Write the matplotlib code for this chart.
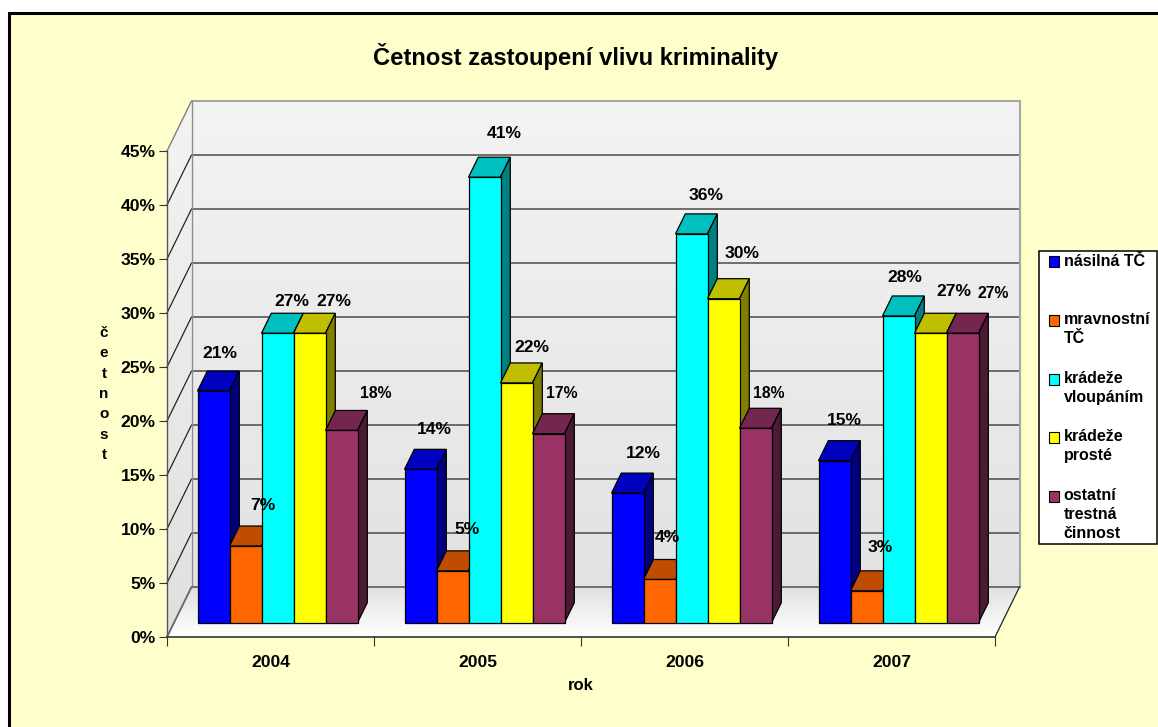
import numpy as np
import matplotlib
matplotlib.use('Agg')
import matplotlib.pyplot as plt
from matplotlib.patches import Rectangle, Polygon

plt.rcParams['font.family'] = ['Liberation Sans', 'DejaVu Sans']
plt.rcParams['font.weight'] = 'bold'

# data
roky = ['2004', '2005', '2006', '2007']
nazvy = ['násilná TČ', 'mravnostní\nTČ', 'krádeže\nvloupáním', 'krádeže\nprosté', 'ostatní\ntrestná\nčinnost']
nasilna = [21.45, 14.2, 12.0, 15.0]
mravnostni = [7.1, 4.8, 4.0, 2.95]
vloupani = [26.8, 41.25, 36.0, 28.4]
proste = [26.8, 22.2, 30.0, 26.8]
ostatni = [17.8, 17.5, 18.0, 26.8]
serie = [nasilna, mravnostni, vloupani, proste, ostatni]
popisky = [[21, 14, 12, 15], [7, 5, 4, 3], [27, 41, 36, 28], [27, 22, 30, 27], [18, 17, 18, 27]]

# colours: front, top, side
barvy = [('#0000FF', '#0000BF', '#000080'),
         ('#FF6600', '#BF4C00', '#803300'),
         ('#00FFFF', '#00BFBF', '#008080'),
         ('#FFFF00', '#BFBF00', '#808000'),
         ('#993366', '#732650', '#4D1A33')]

# label centres in pixels (they were moved by hand in the original)
pozice = [[(220, 353), (434, 429), (643, 453), (844, 420)],
          [(263, 505), (467, 529), (667, 538), (880, 548)],
          [(292, 302), (504, 134), (706, 195), (905, 278)],
          [(334, 302), (532, 347), (742, 254), (954, 291)],
          [(376, 393), (562, 393), (769, 393), (993, 294)]]
male = [(4, 0), (4, 1), (4, 2), (4, 3)]

W, H = 1158, 727
fig = plt.figure(figsize=(W / 100, H / 100), dpi=100, facecolor='white')


def fx(x):
    return x / W


def fy(y):
    return 1 - y / H


# panel with border, cut off at right and bottom like the original
fig.add_artist(Rectangle((fx(8.5), fy(760)), fx(1200), 760 / H - 12.5 / H, transform=fig.transFigure,
                         facecolor='#FFFFCC', edgecolor='black', linewidth=2.2, zorder=-1))

ax = fig.add_axes([fx(167), fy(637), 828 / W, 486 / H])
ax.set_facecolor('none')
ax.set_xlim(0, 4)
ax.set_ylim(0, 45)
sx = 828 / 4  # px per category
sy = 486 / 45  # px per percent
hx, hy = 24.5 / sx, 50 / sy  # depth of the box


def gradient(poly, extent, top, bottom):
    grad = np.linspace(top, bottom, 64).reshape(-1, 1)
    im = ax.imshow(grad, extent=extent, aspect='auto', cmap='gray', vmin=0, vmax=1, zorder=0.5)
    im.set_clip_box(fig.bbox)
    im.set_clip_path(Polygon(poly, transform=ax.transData))


gradient([(hx, hy), (4 + hx, hy), (4 + hx, 45 + hy), (hx, 45 + hy)], (hx, 4 + hx, hy, 45 + hy), 0.95, 0.885)
gradient([(0, 0), (hx, hy), (hx, 45 + hy), (0, 45)], (0, hx, 0, 45 + hy), 0.95, 0.875)
gradient([(0, 0), (4, 0), (4 + hx, hy), (hx, hy)], (0, 4 + hx, 0, hy), 0.88, 1.0)
ax.set_xlim(0, 4)
ax.set_ylim(0, 45)

# grid on back and side wall
for v in range(5, 45, 5):
    ax.plot([0, hx, 4 + hx], [v, v + hy, v + hy], color='#1A1A1A', lw=0.85, zorder=1, clip_on=False)
# wall and floor edges
ax.plot([0, hx, 4 + hx], [45, 45 + hy, 45 + hy], color='#808080', lw=1.0, zorder=1, clip_on=False)
ax.plot([4 + hx, 4 + hx], [hy, 45 + hy], color='#A6A6A6', lw=1.5, zorder=1, clip_on=False)
ax.plot([hx, hx], [hy, 45 + hy], color='#8C8C8C', lw=1.0, zorder=1, clip_on=False)
ax.plot([0, hx, 4 + hx], [0, hy, hy], color='#666666', lw=1.3, zorder=1, clip_on=False)
ax.plot([4, 4 + hx], [0, hy], color='#222222', lw=0.9, zorder=1, clip_on=False)

# bars
sirka = 32 / sx
posun_x, posun_y = 7 / sx, 14.3 / sy
dx, dy = 9.8 / sx, 20 / sy
n = len(serie)
for r in range(len(roky)):
    start = r + 0.5 - n * sirka / 2 + posun_x
    for i, hodnoty in enumerate(serie):
        x0 = start + i * sirka
        x1 = x0 + sirka
        top = hodnoty[r] + posun_y
        z = 2 + r + i * 0.1
        ax.bar(x0, hodnoty[r], width=sirka, bottom=posun_y, align='edge', color=barvy[i][0],
               edgecolor='black', linewidth=0.9, zorder=z + 0.02, clip_on=False)
        ax.fill([x0, x1, x1 + dx, x0 + dx], [top, top, top + dy, top + dy], facecolor=barvy[i][1],
                edgecolor='black', linewidth=0.9, zorder=z, clip_on=False)
        ax.fill([x1, x1 + dx, x1 + dx, x1], [posun_y, posun_y + dy, top + dy, top], facecolor=barvy[i][2],
                edgecolor='black', linewidth=0.9, zorder=z + 0.01, clip_on=False)

# axes
for s in ['top', 'right']:
    ax.spines[s].set_visible(False)
ax.spines['left'].set_color('#555555')
ax.spines['bottom'].set_color('#333333')
ax.spines['left'].set_linewidth(1.0)
ax.spines['bottom'].set_linewidth(1.2)
ax.spines['left'].set_zorder(1.5)
ax.spines['bottom'].set_zorder(1.5)
ax.set_yticks(range(0, 50, 5))
ax.set_yticklabels([str(v) + '%' for v in range(0, 50, 5)], fontsize=12.6, fontweight='bold')
ax.tick_params(axis='y', length=5.8, width=0.8, color='#333333', pad=2.5)
ax.set_xticks(range(5))
ax.set_xticklabels([])
ax.tick_params(axis='x', length=6.2, width=0.8, color='#333333')
ax.set_xticks([r + 0.5 for r in range(4)], minor=True)
ax.set_xticklabels(roky, minor=True, fontsize=12.6, fontweight='bold')
ax.tick_params(axis='x', which='minor', length=0, pad=12.8)

# data labels
for i, radek in enumerate(popisky):
    for r, v in enumerate(radek):
        x, y = pozice[i][r]
        fig.text(fx(x), fy(y), str(v) + '%', ha='center', va='center', zorder=20,
                 fontsize=11.3 if (i, r) in male else 12.6, fontweight='bold', color='black')

# titles
fig.text(fx(576), fy(57), 'Četnost zastoupení vlivu kriminality', ha='center', va='center', fontsize=17.1, fontweight='bold')
fig.text(fx(581), fy(686), 'rok', ha='center', va='center', fontsize=12, fontweight='bold')
fig.text(fx(104), fy(394), '\n'.join('četnost'), ha='center', va='center', fontsize=11, fontweight='bold', linespacing=1.58)

# legend
fig.add_artist(Rectangle((fx(1039), fy(544)), 118 / W, 293.5 / H, transform=fig.transFigure,
                         facecolor='white', edgecolor='black', linewidth=1.1))
radky = [261.7, 320, 379, 437, 496]
for i, nazev in enumerate(nazvy):
    y = radky[i]
    fig.add_artist(Rectangle((fx(1048.5), fy(y + 5.5)), 10.5 / W, 11 / H, transform=fig.transFigure,
                             facecolor=barvy[i][0], edgecolor='black', linewidth=0.8))
    fig.text(fx(1063.5), fy(y - 8), nazev, ha='left', va='top', fontsize=11.5, fontweight='bold',
             linespacing=1.32)

fig.savefig('out.png', dpi=100)
